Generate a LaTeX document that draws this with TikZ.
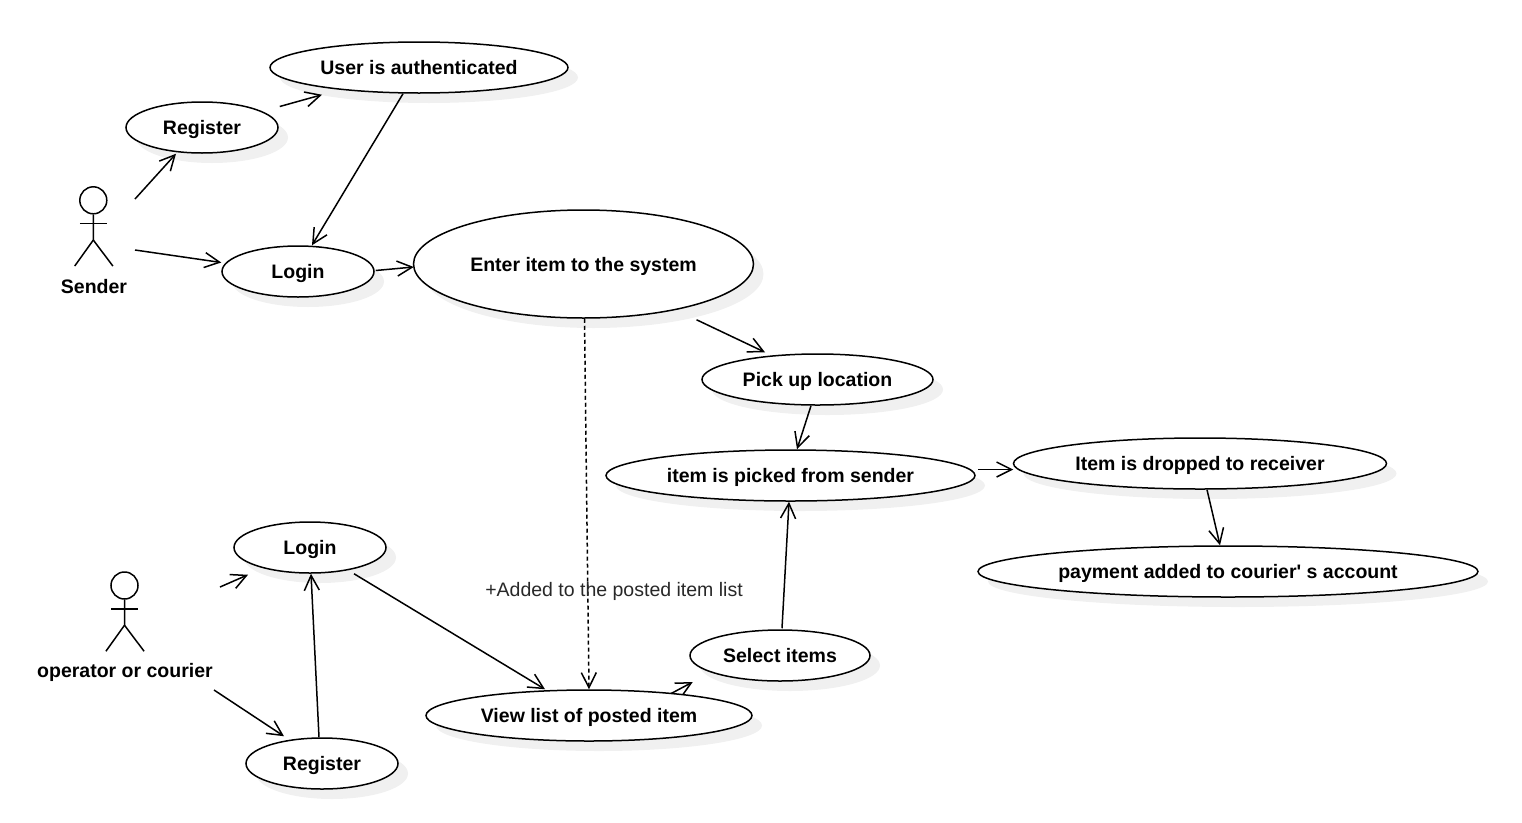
\documentclass[tikz,border=0pt]{standalone}
\usepackage{fontspec}
\setmainfont{Liberation Sans}[Ligatures=TeXOff]
\definecolor{myshadow}{RGB}{240,240,240}
\definecolor{mylabel}{RGB}{40,40,40}
\usetikzlibrary{shapes.geometric,arrows.meta,shadows,backgrounds}
\tikzstyle{usecase}=[draw,fill=white,ellipse,inner sep=0pt,minimum height=51pt,text height=14pt,text depth=0pt,
  font=\fontsize{19.5}{24}\selectfont\bfseries,
  copy shadow={shadow xshift=10pt,shadow yshift=-10pt,draw=none,fill=myshadow}]
\tikzstyle{actorname}=[inner sep=0pt,text height=14pt,text depth=0pt,font=\fontsize{19.5}{24}\selectfont\bfseries]
\tikzstyle{actorhead}=[draw,circle,minimum size=27pt,inner sep=0pt]
\tikzstyle{edge}=[line width=1.5pt,-{Straight Barb[length=15pt,width=15pt]}]

\begin{document}
\begin{tikzpicture}[x=1pt,y=-1pt,line width=1.5pt]
\useasboundingbox (0,0) rectangle (1522,822);

\node [usecase, minimum width=298pt] (auth) at (419,67.5) {User is authenticated};
\node [usecase, minimum width=152pt] (reg1) at (202,127.5) {Register};
\node [usecase, minimum width=152pt] (login1) at (298,271.5) {Login};
\node [usecase, minimum width=340pt, minimum height=108pt] (enter) at (583.5,264) {Enter item to the system};
\node [usecase, minimum width=231pt] (pick) at (817.5,379.5) {Pick up location};
\node [usecase, minimum width=369pt] (picked) at (790.5,475.5) {item is picked from sender};
\node [usecase, minimum width=373pt] (dropped) at (1200,463.5) {Item is dropped to receiver};
\node [usecase, minimum width=500pt] (payment) at (1228,571.5) {payment added to courier' s account};
\node [usecase, minimum width=152pt] (login2) at (310,547.5) {Login};
\node [usecase, minimum width=152pt] (reg2) at (322,763.5) {Register};
\node [usecase, minimum width=326pt] (view) at (589,715.5) {View list of posted item};
\node [usecase, minimum width=180pt] (select) at (780,655.5) {Select items};

% actors
\foreach \name/\x/\y in {sender/93.3/200.3,courier/124.5/585.5}{
  \node [actorhead] (\name) at (\x,\y) {};
  \draw (\name.south) -- ++(0,25.5) coordinate (\name hip) -- ++(-18.6,26);
  \draw (\name hip) -- ++(19.6,26);
  \draw ([shift={(-13.5,9)}]\name.south) -- ++(27,0);
}
\node [actorname] (sendername) at (94,286) {Sender};
\node [actorname] (couriername) at (125,670) {operator or courier};

\coordinate (senderup) at (135,199);
\coordinate (senderdown) at (135,250);
\coordinate (courierup) at (220,587);
\coordinate (courierdown) at (214,690);

\draw [edge] (senderup) -- ([shift={(-26,0)}]reg1.south);
\draw [edge] ([shift={(1,-21)}]reg1.east) -- ([shift={(-97,1)}]auth.south);
\draw [edge] ([shift={(-16,0)}]auth.south) -- ([shift={(14,0)}]login1.north);
\draw [edge] (senderdown) -- ([shift={(0,-9)}]login1.west);
\draw [edge] ([shift={(1,-1)}]login1.east) -- ([shift={(1,3)}]enter.west);
\draw [edge] ([shift={(113,1)}]enter.south) -- ([shift={(-52.5,-1)}]pick.north);
\draw [edge] ([shift={(-6.5,0)}]pick.south) -- ([shift={(6.5,0)}]picked.north);
\draw [edge] ([shift={(2,-6)}]picked.east) -- ([shift={(0.5,6)}]dropped.west);
\draw [edge] ([shift={(7,0)}]dropped.south) -- ([shift={(-8,0)}]payment.north);
\draw [edge, dash pattern=on 4pt off 3pt] ([shift={(1,0)}]enter.south) -- (view.north);

\draw [edge] (courierup) -- ([shift={(-62,1)}]login2.south);
\draw [edge] (courierdown) -- ([shift={(-38,-1)}]reg2.north);
\draw [edge] ([shift={(-3,0)}]reg2.north) -- ([shift={(1,0)}]login2.south);
\draw [edge] ([shift={(44,0)}]login2.south) -- ([shift={(-44,0)}]view.north);
\draw [edge] ([shift={(2,-1)}]select.north) -- ([shift={(-1.5,0)}]picked.south);
\begin{scope}[on background layer]
\draw [edge] ([shift={(77,7)}]view.north) -- ([shift={(3.5,26.5)}]select.west);
\end{scope}

\node [inner sep=0pt, text=mylabel, text height=14pt, text depth=0pt, font=\fontsize{19.5}{24}\selectfont] (addedlabel) at (614,589) {+Added to the posted item list};
\end{tikzpicture}
\end{document}
